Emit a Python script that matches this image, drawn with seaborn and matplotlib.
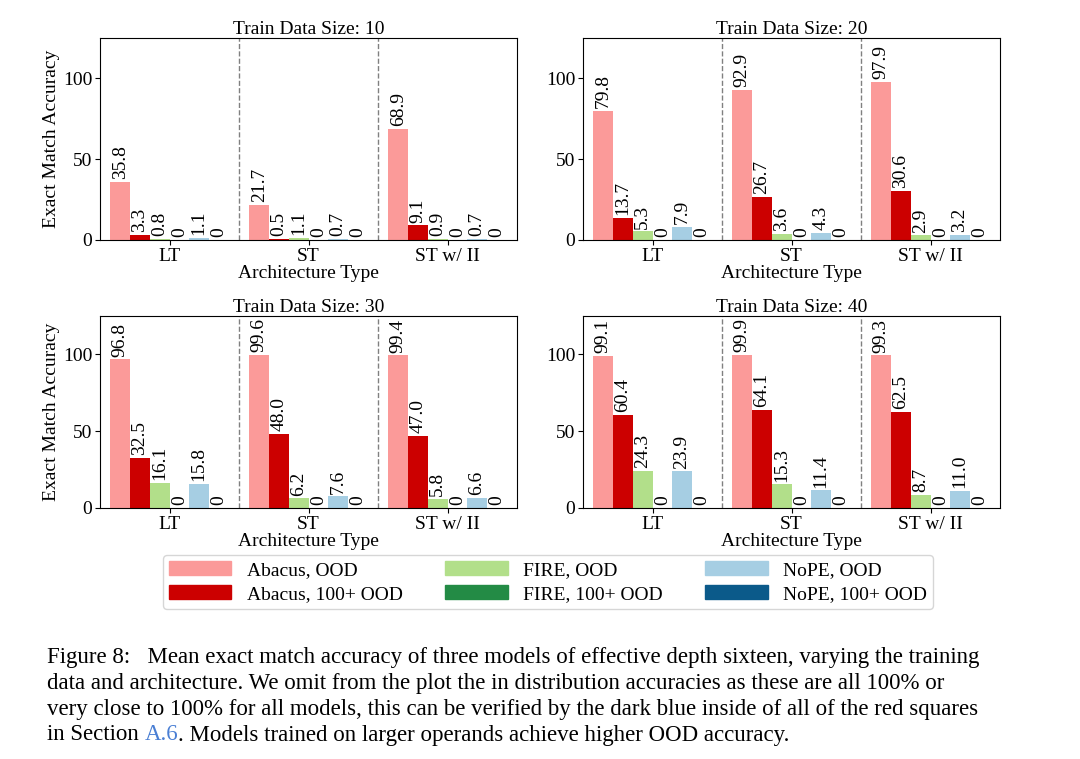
import matplotlib
matplotlib.use("Agg")
import matplotlib.pyplot as plt
import seaborn as sns
import pandas as pd

plt.rcParams["font.family"] = "Liberation Serif"

archs = ["LT", "ST", "ST w/ II"]
series = ["Abacus, OOD", "Abacus, 100+ OOD", "FIRE, OOD", "FIRE, 100+ OOD", "NoPE, OOD", "NoPE, 100+ OOD"]
colors = ["#fb9a99", "#cc0000", "#b2df8a", "#238b45", "#a6cee3", "#0b5a8a"]
sizes = [10, 20, 30, 40]
size10 = [[35.8, 3.3, 0.8, 0, 1.1, 0], [21.7, 0.5, 1.1, 0, 0.7, 0], [68.9, 9.1, 0.9, 0, 0.7, 0]]
size20 = [[79.8, 13.7, 5.3, 0, 7.9, 0], [92.9, 26.7, 3.6, 0, 4.3, 0], [97.9, 30.6, 2.9, 0, 3.2, 0]]
size30 = [[96.8, 32.5, 16.1, 0, 15.8, 0], [99.6, 48.0, 6.2, 0, 7.6, 0], [99.4, 47.0, 5.8, 0, 6.6, 0]]
size40 = [[99.1, 60.4, 24.3, 0, 23.9, 0], [99.9, 64.1, 15.3, 0, 11.4, 0], [99.3, 62.5, 8.7, 0, 11.0, 0]]
all_data = [size10, size20, size30, size40]

fig = plt.figure(figsize=(10.8, 7.59), dpi=100)
W, H = 1080, 759
FS = 14
boxes = [(100, 38, 517, 240), (583, 38, 1000, 240), (100, 316, 517, 508), (583, 316, 1000, 508)]
for i, (size, data) in enumerate(zip(sizes, all_data)):
    x0, y0, x1, y1 = boxes[i]
    ax = fig.add_axes([x0 / W, 1 - y1 / H, (x1 - x0) / W, (y1 - y0) / H])
    rows = [(a, s, data[ai][si]) for ai, a in enumerate(archs) for si, s in enumerate(series)]
    df = pd.DataFrame(rows, columns=["arch", "series", "val"])
    sns.barplot(data=df, x="arch", y="val", hue="series", hue_order=series, palette=colors,
                ax=ax, width=0.85, legend=False, saturation=1)
    for c in ax.containers:
        labels = [f"{v:.1f}" if v != 0 else "0" for v in c.datavalues]
        ax.bar_label(c, labels=labels, rotation=90, padding=2, fontsize=FS)
    for xv in [0.5, 1.5]:
        ax.axvline(xv, color="gray", ls="--", lw=1)
    ax.set_xlim(-0.5, 2.5)
    ax.set_ylim(0, 125)
    ax.set_yticks([0, 50, 100])
    ax.tick_params(labelsize=FS, pad=2)
    ax.set_title(f"Train Data Size: {size}", fontsize=FS, pad=2)
    ax.set_xlabel("Architecture Type", fontsize=FS, labelpad=0)
    ax.set_ylabel("Exact Match Accuracy" if i % 2 == 0 else "", fontsize=FS, labelpad=2)

handles = [plt.Rectangle((0, 0), 1, 1, color=c) for c in colors]
fig.legend(handles, series, loc="center", bbox_to_anchor=(548 / W, 1 - 582 / H), ncol=3,
           fontsize=FS, frameon=True, edgecolor="#cccccc", columnspacing=2.2, handlelength=3.2,
           borderpad=0.3, labelspacing=0.35, handletextpad=0.8)

lines = [
    "Figure 8:   Mean exact match accuracy of three models of effective depth sixteen, varying the training",
    "data and architecture. We omit from the plot the in distribution accuracies as these are all 100% or",
    "very close to 100% for all models, this can be verified by the dark blue inside of all of the red squares",
]
ys = [657, 683, 709, 735]
for t, y in zip(lines, ys):
    fig.text(47 / W, 1 - y / H, t, fontsize=16.5, va="center")
fig.canvas.draw()
r = fig.canvas.get_renderer()
x = 47 / W
for t, col in [("in Section ", "black"), ("A.6", "#4a7fd4"), (". Models trained on larger operands achieve higher OOD accuracy.", "black")]:
    tt = fig.text(x, 1 - ys[3] / H, t, fontsize=16.5, va="center", color=col)
    x += tt.get_window_extent(r).width / W

fig.savefig("out.png", dpi=100)
